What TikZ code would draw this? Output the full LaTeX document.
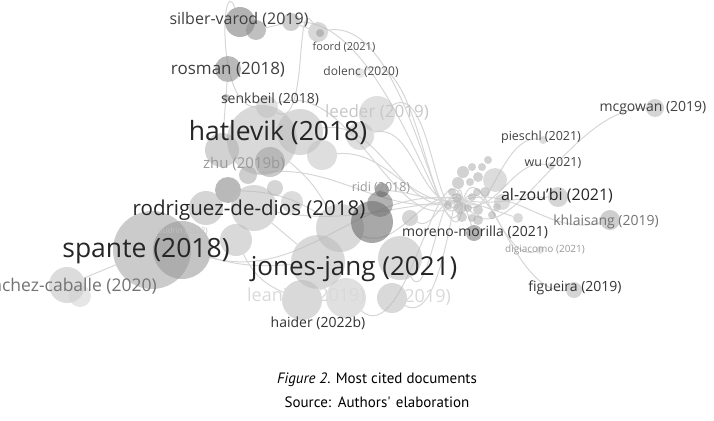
\documentclass[tikz,border=0pt]{standalone}
\usepackage{fontspec}
\setmainfont{Open Sans}
\newfontfamily\capfont{PT Sans}
\newcommand\fsz[1]{\fontsize{#1}{#1}\selectfont}
\pgfdeclarelayer{bg}
\pgfsetlayers{bg,main}
\tikzset{
  bub/.style={circle,inner sep=0pt,fill=#1,fill opacity=0.55,draw=none},
  lbl/.style={inner sep=0pt,text=#1},
  link/.style={draw=black!16,line width=1pt},
}
\begin{document}
\begin{tikzpicture}[x=1pt,y=-1pt]
\useasboundingbox (0,0) rectangle (714,420);
\clip (0,0) rectangle (714,420);
% ---------- bubbles ----------
% top
\node[bub=black!55,minimum size=30] (sv1) at (240,22) {};
\node[bub=black!45,minimum size=20] (sv2) at (256,30) {};
\node[bub=black!35,minimum size=18] (sv3) at (291,22) {};
\node[bub=black!28,minimum size=20] (fo) at (318,32) {};
\node[bub=black!40,minimum size=8] (fo2) at (320,33) {};
\node[bub=black!50,minimum size=26] (ro) at (228,69) {};
\node[bub=black!40,minimum size=8] (ro2) at (226,98) {};
\node[bub=black!18,minimum size=10] (do) at (360,73) {};
\node[bub=black!22,minimum size=22] (se) at (267,107) {};
\node[bub=black!22,minimum size=36] (le) at (377,114) {};
% hatlevik cluster
\node[bub=black!27,minimum size=70] (h1) at (262,140) {};
\node[bub=black!27,minimum size=46] (h2) at (300,132) {};
\node[bub=black!32,minimum size=34] (h3) at (222,150) {};
\node[bub=black!24,minimum size=30] (h4) at (322,155) {};
\node[bub=black!24,minimum size=28] (h5) at (360,136) {};
\node[bub=black!38,minimum size=30] (h6) at (270,162) {};
% zhu / rodriguez
\node[bub=black!50,minimum size=26] (z1) at (228,190) {};
\node[bub=black!30,minimum size=34] (z2) at (206,208) {};
\node[bub=black!35,minimum size=18] (z3) at (248,175) {};
\node[bub=black!27,minimum size=46] (r1) at (254,208) {};
\node[bub=black!30,minimum size=16] (r4) at (275,188) {};
\node[bub=black!27,minimum size=32] (r2) at (236,240) {};
\node[bub=black!25,minimum size=22] (r3) at (292,202) {};
% spante
\node[bub=black!37,minimum size=78] (s1) at (152,250) {};
\node[bub=black!42,minimum size=58] (s2) at (182,250) {};
% sanchez-caballe
\node[bub=black!25,minimum size=36] (sc) at (67,285) {};
\node[bub=black!18,minimum size=22] (sc2) at (80,296) {};
% jones-jang cluster
\node[bub=black!27,minimum size=48] (j1) at (340,228) {};
\node[bub=black!62,minimum size=42] (j2) at (372,222) {};
\node[bub=black!55,minimum size=26] (j9) at (380,204) {};
\node[bub=black!27,minimum size=54] (j3) at (318,262) {};
\node[bub=black!27,minimum size=44] (j4) at (400,258) {};
\node[bub=black!27,minimum size=40] (j5) at (302,300) {};
\node[bub=black!22,minimum size=40] (j6) at (346,298) {};
\node[bub=black!27,minimum size=30] (j7) at (392,298) {};
\node[bub=black!30,minimum size=16] (j8) at (410,218) {};
\node[bub=black!65,minimum size=14] (ri) at (382,190) {};
% hub
\node[bub=black!30,minimum size=4] (hub) at (463,200) {};
\foreach \n/\x/\y/\r in {a/463/172/6,b/472/167/4,c/482/167/4,d/458/183/6,e/470/182/4,
  f/478/177/5,g/485/192/5,h/477/192/4,i/457/198/5,j/472/197/4,k/460/208/6,
  l/468/208/4,m/478/210/5,n/462/217/5,o/472/218/4,p/478/220/5,q/492/215/4,
  s/497/207/4,t/452/192/4,u/488/160/4,v/448/205/4}
  \node[bub=black!32,minimum size=2*\r] (hb\n) at (\x,\y) {};
\node[bub=black!25,minimum size=24] (hbig) at (495,180) {};
\node[bub=black!25,minimum size=16] (hb2) at (502,202) {};
\node[bub=black!27,minimum size=10] (n1) at (518,218) {};
% outer nodes
\node[bub=black!30,minimum size=18] (mc) at (655,108) {};
\node[bub=black!25,minimum size=8] (pi) at (543,140) {};
\node[bub=black!25,minimum size=8] (wun) at (551,166) {};
\node[bub=black!30,minimum size=20] (az) at (558,197) {};
\node[bub=black!35,minimum size=20] (kh) at (610,220) {};
\node[bub=black!18,minimum size=8] (dg) at (540,250) {};
\node[bub=black!30,minimum size=16] (fi) at (574,290) {};
\node[bub=black!55,minimum size=16] (mm) at (474,233) {};
% ---------- links ----------
\begin{pgfonlayer}{bg}
\draw[link] (hub) to[out=-60,in=180] (mc);
\draw[link] (hub) to[out=-55,in=170] (pi);
\draw[link] (hub) to[out=-35,in=165] (wun);
\draw[link] (hub) to[out=-10,in=180] (az);
\draw[link] (hub) to[out=15,in=195] (kh);
\draw[link] (hub) to[out=70,in=185] (fi);
\draw[link] (hub) to[out=40,in=200] (dg);
\draw[link] (hub) to (mm);
\draw[link] (hub) to (n1);
\draw[link] (hub) to[out=-105,in=10] (fo);
\draw[link] (hub) to[out=-95,in=0] (sv3);
\draw[link] (hub) to[out=-125,in=30] (le);
\draw[link] (hub) to[out=-120,in=30] (do);
\draw[link] (hub) to[out=-140,in=20] (se);
\draw[link] (hub) to[out=-155,in=10] (h2);
\draw[link] (hub) to[out=-160,in=15] (h5);
\draw[link] (hub) to[out=-170,in=5] (h4);
\draw[link] (hub) to[out=-175,in=-5] (ri);
\draw[link] (hub) to[out=-165,in=10] (z3);
\draw[link] (hub) to[out=185,in=-10] (r1);
\draw[link] (hub) to[out=170,in=-15] (s2);
\draw[link] (hub) to[out=160,in=-20] (j1);
\draw[link] (hub) to[out=150,in=-30] (j8);
\draw[link] (hub) to[out=125,in=-60] (j4);
\draw[link] (hub) to[out=100,in=-30] (j7);
\draw[link] (hub) to[out=115,in=-40] (j6);
\draw[link] (sv1) to[out=110,in=180] (se);
\draw[link] (fo) to[out=120,in=-30] (se);
\draw[link] (sv3) to (fo);
\draw[link] (sv2) to (sv3);
\draw[link] (s2) to[bend right=10] (j3);
\draw[link] (r2) to[bend right=20] (j5);
\draw[link] (h1) to[bend left=10] (j1);
\draw[link] (r1) to (j3);
\draw[link] (sc) to (s1);
\draw[link] (ro) to (h3);
\draw[link] (z1) to[bend left=15] (j1);
\end{pgfonlayer}
% ---------- labels ----------
\node[lbl=black!75] (tsv) at (239,20) {\fsz{16}silber-varod (2019)};
\node[lbl=black!70] (tfo) at (344,47) {\fsz{11}foord (2021)};
\node[lbl=black!75] (tro) at (228,70) {\fsz{17}rosman (2018)};
\node[lbl=black!70] (tdo) at (361,72) {\fsz{12}dolenc (2020)};
\node[lbl=black!75] (tse) at (270,99) {\fsz{14}senkbeil (2018)};
\node[lbl=black!22] (tle) at (377,112) {\fsz{17}leeder (2019)};
\node[lbl=black!85] (tha) at (278,133) {\fsz{26.5}hatlevik (2018)};
\node[lbl=black!40] (tzh) at (244,164) {\fsz{15}zhu (2019b)};
\node[lbl=black!40] (tri) at (381,188) {\fsz{12.5}ridi (2018)};
\node[lbl=black!85] (trd) at (249,210) {\fsz{20.5}rodriguez-de-dios (2018)};
\node[lbl=black!25] (tau) at (183,231) {\fsz{8}audrin (2022)};
\node[lbl=black!85] (tsp) at (146,251) {\fsz{26.5}spante (2018)};
\node[lbl=black!55,anchor=east] (tsc) at (157,286) {\fsz{17.5}sanchez-caballe (2020)};
\node[lbl=black!85] (tjj) at (354,269) {\fsz{26}jones-jang (2021)};
\node[lbl=black!15] (tln) at (306,297) {\fsz{18}leaning (2019)};
\node[lbl=black!15] (tx) at (425,297) {\fsz{18}(2019)};
\node[lbl=black!80] (thd) at (318,323) {\fsz{14}haider (2022b)};
\node[lbl=black!80] (tmm) at (475,232) {\fsz{14}moreno-morilla (2021)};
\node[lbl=black!75] (tmc) at (653,108) {\fsz{14}mcgowan (2019)};
\node[lbl=black!75] (tpi) at (541,137) {\fsz{12.5}pieschl (2021)};
\node[lbl=black!75] (twu) at (553,163) {\fsz{12.5}wu (2021)};
\node[lbl=black!85] (taz) at (557,196) {\fsz{16}al-zou'bi (2021)};
\node[lbl=black!55] (tkh) at (606,222) {\fsz{14}khlaisang (2019)};
\node[lbl=black!40] (tdg) at (545,250) {\fsz{10}digiacomo (2021)};
\node[lbl=black!80] (tfi) at (575,288) {\fsz{14}figueira (2019)};
% ---------- caption ----------
\node[lbl=black] (cap1) at (377,380) {\capfont\fsz{15}\textit{Figure 2}. Most cited documents};
\node[lbl=black] (cap2) at (377,402) {\capfont\fsz{15}\spaceskip=0.35em Source: Authors' elaboration};
\end{tikzpicture}
\end{document}
